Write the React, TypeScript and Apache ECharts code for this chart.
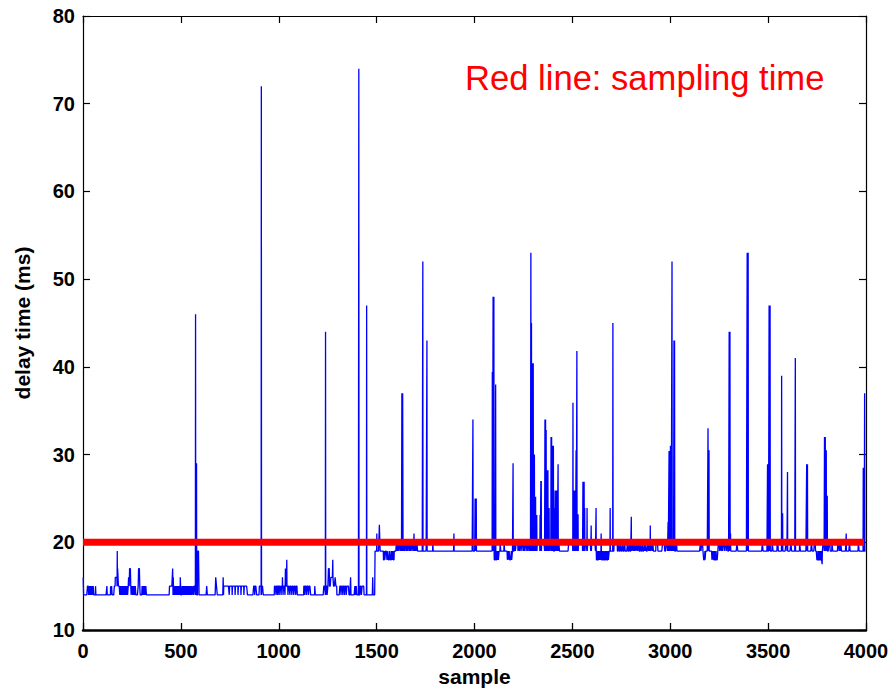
import React, { useEffect, useRef } from "react";
import * as echarts from "echarts";

// ---------------- data ----------------
const SAMPLE_COUNT = 4000;
const SAMPLING_TIME = 20; // ms (red line)
const RED_LINE_START = 0;
const RED_LINE_END = 3990;

const X_MIN = 0;
const X_MAX = 4000;
const X_INTERVAL = 500;
const Y_MIN = 10;
const Y_MAX = 80;
const Y_INTERVAL = 10;

const X_TITLE = "sample";
const Y_TITLE = "delay time (ms)";
const NOTE = "Red line: sampling time";

// baseline delay level: [firstSample, lastSample, ms]
const baseLevels: number[][] = [
  [0, 1490, 14],
  [1491, 3999, 19],
];

// plateaus before the step: [firstSample, lastSample, ms]
const earlyRuns: number[][] = [
  [0, 1, 16],
  [22, 26, 15], [29, 31, 15], [34, 37, 15], [40, 42, 15], [45, 48, 15], [51, 53, 15], [63, 64, 15],
  [121, 122, 15], [140, 141, 15], [145, 147, 15],
  [159, 186, 15], [164, 172, 16], [176, 179, 17],
  [189, 192, 15], [195, 197, 15], [200, 203, 15], [206, 208, 15], [211, 214, 15], [217, 220, 15], [223, 226, 15],
  [230, 244, 15], [232, 234, 16], [237, 242, 17],
  [249, 252, 15], [255, 258, 15], [261, 263, 15], [266, 268, 15],
  [281, 290, 15], [283, 288, 17],
  [301, 304, 15], [308, 311, 15], [315, 318, 15], [320, 322, 15],
  [441, 456, 15], [457, 458, 17], [460, 461, 16],
  [465, 468, 15], [471, 474, 15], [477, 480, 15], [484, 487, 15], [491, 494, 15], [496, 498, 16],
  [505, 508, 15], [512, 515, 15], [519, 522, 15], [526, 529, 15], [533, 536, 15], [540, 543, 15],
  [546, 548, 15], [552, 555, 15], [560, 563, 15], [567, 572, 15],
  [585, 591, 19],
  [631, 633, 15],
  [677, 680, 16], [681, 684, 15],
  [715, 716, 16], [718, 745, 15], [748, 760, 15], [763, 775, 15], [778, 790, 15], [793, 805, 15],
  [808, 820, 15], [823, 838, 15],
  [871, 875, 15], [878, 885, 15],
  [900, 908, 15], [912, 919, 15],
  [977, 984, 15], [987, 992, 15], [995, 1000, 15], [1003, 1010, 15], [1013, 1020, 15], [1023, 1030, 15],
  [1033, 1045, 15], [1048, 1055, 15], [1058, 1065, 15], [1068, 1075, 15], [1078, 1085, 15], [1088, 1093, 15],
  [1127, 1131, 15], [1135, 1140, 15], [1144, 1150, 15], [1154, 1161, 15], [1183, 1185, 15],
  [1229, 1236, 15], [1240, 1245, 15], [1250, 1295, 15], [1253, 1257, 17], [1265, 1278, 16], [1287, 1290, 16],
  [1311, 1316, 15], [1320, 1325, 15], [1329, 1334, 15], [1338, 1343, 15], [1347, 1357, 15],
  [1366, 1367, 16],
  [1388, 1390, 15], [1395, 1397, 15],
  [1415, 1420, 15], [1425, 1434, 15],
  [1479, 1480, 16],
  [1513, 1516, 22],
];

// dips to 18 ms after the step: [firstSample, lastSample]
const dips18: number[][] = [
  [1534, 1538], [1541, 1543], [1552, 1555], [1559, 1565], [1570, 1574], [1578, 1581], [1584, 1588],
  [2100, 2104], [2108, 2112], [2115, 2118], [2121, 2124],
  [2167, 2170], [2173, 2175], [2179, 2186], [2189, 2192],
  [2622, 2626], [2628, 2632], [2635, 2638], [2641, 2644], [2648, 2652], [2655, 2659], [2662, 2666],
  [2669, 2673], [2676, 2680], [2683, 2686],
  [3170, 3175], [3177, 3179], [3212, 3214], [3217, 3219], [3221, 3225], [3228, 3232], [3235, 3241],
  [3748, 3752], [3754, 3758], [3760, 3764], [3766, 3770], [3772, 3775],
];

// short steps to 20 ms: [firstSample, lastSample]
const steps20: number[][] = [
  [1600, 1603], [1608, 1610], [1614, 1618], [1622, 1625], [1637, 1640], [1644, 1648], [1652, 1655],
  [1659, 1663], [1667, 1670], [1674, 1678], [1682, 1686], [1694, 1697], [1700, 1703], [1705, 1707],
  [1786, 1787], [2130, 2132], [2150, 2152],
  [2205, 2207], [2212, 2220], [2225, 2228], [2232, 2236], [2240, 2246], [2250, 2253], [2257, 2262],
  [2266, 2270], [2274, 2278], [2281, 2284],
  [2320, 2332], [2342, 2356], [2384, 2388], [2430, 2432], [2480, 2500], [2530, 2550], [2565, 2572],
  [2578, 2592], [2598, 2616],
  [2712, 2728], [2735, 2738], [2745, 2748], [2756, 2758], [2766, 2768], [2780, 2782], [2790, 2792],
  [2805, 2808], [2812, 2815], [2820, 2823], [2828, 2831], [2836, 2839], [2845, 2848], [2855, 2858],
  [2866, 2869], [2873, 2876], [2885, 2888], [2892, 2895], [2902, 2905], [2910, 2912], [2926, 2935],
  [2960, 2970], [2978, 2984], [3012, 3015], [3028, 3032], [3153, 3155], [3160, 3165],
  [3245, 3250], [3255, 3258], [3262, 3265], [3270, 3275], [3280, 3284], [3288, 3292],
  [3340, 3343], [3470, 3472], [3520, 3523], [3545, 3550], [3590, 3594], [3615, 3618], [3660, 3663],
  [3720, 3723], [3736, 3740], [3780, 3784], [3810, 3815], [3825, 3828], [3855, 3860], [3863, 3866],
  [3870, 3873], [3915, 3917], [3960, 3963],
];

// single-sample peaks: [sample, ms]
const spikes: number[][] = [
  [174, 19], [574, 46], [579, 29], [910, 72], [1018, 16], [1033, 17], [1040, 18], [1238, 44], [1275, 18],
  [1408, 74], [1448, 47], [1500, 21],
  [1628, 37], [1629, 37], [1632, 37], [1633, 37], [1690, 21], [1735, 52], [1756, 43], [1894, 21],
  [1991, 34], [2002, 25], [2005, 25], [2008, 25],
  [2090, 39.4], [2094, 48], [2096, 48], [2098, 48], [2107, 38], [2196, 29],
  [2287, 53], [2290, 45], [2293, 40.4], [2296, 40.4], [2299, 40.4], [2302, 30], [2305, 30], [2308, 25.2],
  [2311, 25.2], [2314, 23.1], [2317, 23.1], [2334, 23.1], [2338, 27], [2340, 27],
  [2359, 34], [2362, 34], [2365, 32.8], [2368, 28.2], [2371, 28.2], [2374, 28.2], [2377, 23.9], [2380, 23.9],
  [2390, 32], [2393, 32], [2396, 31], [2399, 31], [2402, 31], [2408, 23.9], [2411, 25.9], [2414, 25.9],
  [2417, 25.9], [2421, 25.9], [2426, 28.9],
  [2502, 35.9], [2505, 25.9], [2508, 25.9], [2511, 25.9], [2514, 25.9], [2518, 30.5], [2522, 41.8],
  [2526, 23.2], [2528, 23.2],
  [2553, 26.9], [2556, 26.9], [2559, 26.9], [2562, 23.9], [2574, 23.9], [2595, 21.9], [2620, 23.9],
  [2646, 21], [2692, 23.9], [2706, 45], [2800, 22.9], [2897, 21.9],
  [2988, 22.3], [2993, 30.4], [2996, 30.4], [3000, 31], [3003, 31], [3008, 52], [3018, 43], [3021, 43],
  [3192, 33], [3197, 30.5], [3300, 44], [3304, 44], [3307, 21], [3392, 53], [3397, 53], [3496, 28.9],
  [3504, 47], [3509, 47], [3568, 39], [3573, 23.3], [3598, 28], [3638, 41],
  [3696, 28.9], [3700, 28.9], [3775, 17.5], [3787, 32], [3791, 32], [3796, 30.5], [3801, 25.3],
  [3898, 21], [3985, 28.5], [3992, 37],
];

// ---------------- build series from the lists ----------------
function buildDelays(): number[][] {
  const v: number[] = new Array(SAMPLE_COUNT).fill(0);
  const setRun = (a: number, b: number, val: number) => {
    for (let i = a; i <= b && i < SAMPLE_COUNT; i++) v[i] = val;
  };
  baseLevels.forEach(([a, b, val]) => setRun(a, b, val));
  earlyRuns.forEach(([a, b, val]) => setRun(a, b, val));
  dips18.forEach(([a, b]) => setRun(a, b, 18));
  steps20.forEach(([a, b]) => setRun(a, b, 20));
  spikes.forEach(([s, val]) => {
    if (s < SAMPLE_COUNT) v[s] = val;
  });
  return v.map((val, i) => [i + 1, val]);
}

const FONT = '"Liberation Sans", Arial, Helvetica, sans-serif';

export default function App() {
  const ref = useRef<HTMLDivElement>(null);

  useEffect(() => {
    document.body.style.margin = "0";
    if (!ref.current) return;
    const chart = echarts.init(ref.current, undefined, { renderer: "svg" });
    const axisText = { color: "#000", fontFamily: FONT, fontWeight: "bold" as const, fontSize: 20 };
    const plain = (v: number) => String(v);

    chart.setOption({
      animation: false,
      backgroundColor: "#fff",
      grid: { left: 83, right: 26, top: 16, bottom: 64 },
      xAxis: [
        {
          type: "value",
          min: X_MIN,
          max: X_MAX,
          interval: X_INTERVAL,
          position: "bottom",
          name: X_TITLE,
          nameLocation: "middle",
          nameGap: 34,
          nameTextStyle: { ...axisText, fontSize: 21 },
          axisLine: { show: true, onZero: false, lineStyle: { color: "#000", width: 2.5 } },
          axisTick: { show: true, inside: true, length: 7, lineStyle: { color: "#000", width: 1.3 } },
          axisLabel: { ...axisText, margin: 11, formatter: plain },
          splitLine: { show: false },
        },
        {
          type: "value",
          min: X_MIN,
          max: X_MAX,
          interval: X_INTERVAL,
          position: "top",
          axisLine: { show: true, onZero: false, lineStyle: { color: "#000", width: 1.2 } },
          axisTick: { show: true, inside: true, length: 7, lineStyle: { color: "#000", width: 1.2 } },
          axisLabel: { show: false },
          splitLine: { show: false },
        },
      ],
      yAxis: [
        {
          type: "value",
          min: Y_MIN,
          max: Y_MAX,
          interval: Y_INTERVAL,
          position: "left",
          name: Y_TITLE,
          nameLocation: "middle",
          nameGap: 50,
          nameTextStyle: { ...axisText, fontSize: 21 },
          axisLine: { show: true, onZero: false, lineStyle: { color: "#000", width: 1.2 } },
          axisTick: { show: true, inside: true, length: 7, lineStyle: { color: "#000", width: 1.2 } },
          axisLabel: { ...axisText, margin: 8, formatter: plain },
          splitLine: { show: false },
        },
        {
          type: "value",
          min: Y_MIN,
          max: Y_MAX,
          interval: Y_INTERVAL,
          position: "right",
          axisLine: { show: true, onZero: false, lineStyle: { color: "#000", width: 1.2 } },
          axisTick: { show: true, inside: true, length: 7, lineStyle: { color: "#000", width: 1.2 } },
          axisLabel: { show: false },
          splitLine: { show: false },
        },
      ],
      series: [
        {
          type: "line",
          name: "delay",
          xAxisIndex: 0,
          yAxisIndex: 0,
          data: buildDelays(),
          showSymbol: false,
          symbol: "none",
          lineStyle: { color: "#0000ff", width: 1.3 },
          z: 2,
        },
        {
          type: "line",
          name: "sampling time",
          xAxisIndex: 0,
          yAxisIndex: 0,
          data: [
            [RED_LINE_START, SAMPLING_TIME],
            [RED_LINE_END, SAMPLING_TIME],
          ],
          showSymbol: false,
          symbol: "none",
          lineStyle: { color: "#ff0000", width: 7, cap: "butt" },
          z: 3,
        },
      ],
      graphic: [
        {
          type: "text",
          left: 465,
          top: 60,
          style: {
            text: NOTE,
            fill: "#ff0000",
            font: `normal 34.6px ${FONT}`,
          },
        },
      ],
    });

    return () => chart.dispose();
  }, []);

  return <div ref={ref} style={{ width: 892, height: 694 }} />;
}
